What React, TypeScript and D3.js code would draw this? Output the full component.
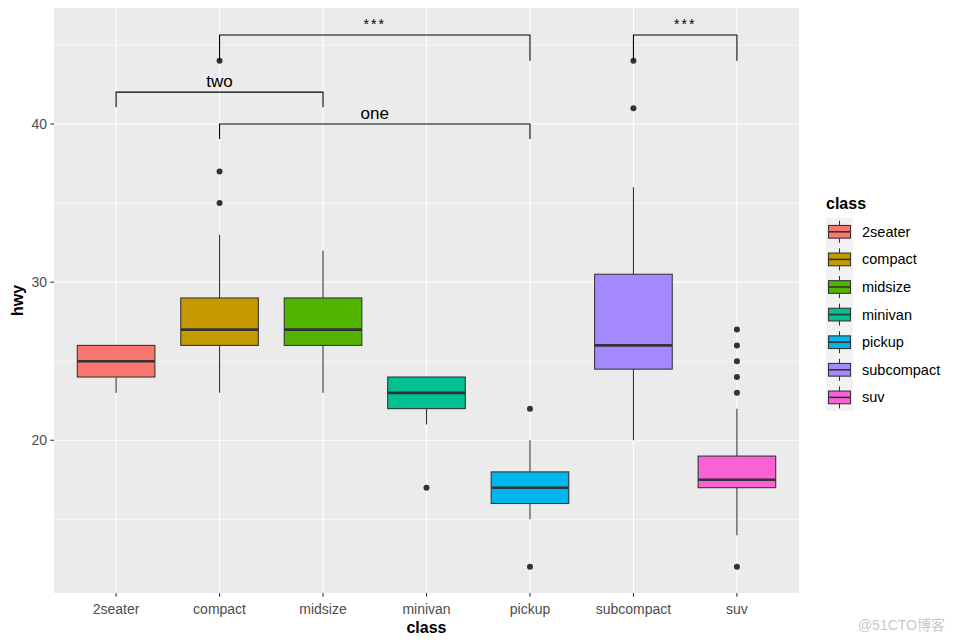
import React from "react";
import * as d3 from "d3";

const classes = ["2seater", "compact", "midsize", "minivan", "pickup", "subcompact", "suv"];
const colors = ["#F8766D", "#C49A00", "#53B400", "#00C094", "#00B6EB", "#A58AFF", "#FB61D7"];
const lowerWhisker = [23, 23, 23, 21, 15, 20, 14];
const q1 = [24, 26, 26, 22, 16, 24.5, 17];
const median = [25, 27, 27, 23, 17, 26, 17.5];
const q3 = [26, 29, 29, 24, 18, 30.5, 19];
const upperWhisker = [26, 33, 32, 24, 20, 36, 22];
const outliers: number[][] = [[], [44, 37, 35], [], [17], [22, 12], [44, 41], [27, 26, 25, 24, 23, 12]];

const yMajor = [20, 30, 40];
const yMinor = [15, 25, 35, 45];

const bracketFrom = ["compact", "subcompact", "2seater", "compact"];
const bracketTo = ["pickup", "suv", "midsize", "pickup"];
const bracketY = [45.63, 45.63, 42.02, 40.0];
const bracketTip = [44.0, 44.0, 41.07, 39.05];
const bracketLabel = ["***", "***", "two", "one"];
const bracketSize = [14, 14, 17, 17];

const W = 954, H = 642;
const panel = { left: 54, right: 799, top: 8, bottom: 593 };
const FONT = "'Liberation Sans', Arial, sans-serif";

export default function App() {
  const x = d3.scalePoint<string>().domain(classes).range([panel.left, panel.right]).padding(0.6);
  const y = d3.scaleLinear().domain([10.34, 47.34]).range([panel.bottom, panel.top]);
  const step = x.step();
  const bw = step * 0.75;

  const legendX = 826;
  const legendKeyTop = 218;
  const keyH = 27.6;
  const keyW = 27;

  return (
    <svg width={W} height={H} style={{ position: "absolute", left: 0, top: 0, background: "#fff" }} fontFamily={FONT}>
      <rect x={panel.left} y={panel.top} width={panel.right - panel.left} height={panel.bottom - panel.top} fill="#EBEBEB" />
      {yMinor.map((v) => (
        <line key={"mn" + v} x1={panel.left} x2={panel.right} y1={y(v)} y2={y(v)} stroke="#fff" strokeWidth={0.55} />
      ))}
      {yMajor.map((v) => (
        <line key={"mj" + v} x1={panel.left} x2={panel.right} y1={y(v)} y2={y(v)} stroke="#fff" strokeWidth={1.07} />
      ))}
      {classes.map((c) => (
        <line key={"vx" + c} x1={x(c)} x2={x(c)} y1={panel.top} y2={panel.bottom} stroke="#fff" strokeWidth={1.07} />
      ))}

      {classes.map((c, i) => {
        const cx = x(c)!;
        return (
          <g key={"box" + c}>
            <line x1={cx} x2={cx} y1={y(upperWhisker[i])} y2={y(q3[i])} stroke="#333" strokeWidth={1.07} />
            <line x1={cx} x2={cx} y1={y(q1[i])} y2={y(lowerWhisker[i])} stroke="#333" strokeWidth={1.07} />
            <rect x={cx - bw / 2} y={y(q3[i])} width={bw} height={y(q1[i]) - y(q3[i])} fill={colors[i]} stroke="#333" strokeWidth={1.07} />
            <line x1={cx - bw / 2} x2={cx + bw / 2} y1={y(median[i])} y2={y(median[i])} stroke="#333" strokeWidth={2.6} />
            {outliers[i].map((o, j) => (
              <circle key={j} cx={cx} cy={y(o)} r={3} fill="#333" />
            ))}
          </g>
        );
      })}

      {bracketFrom.map((f, i) => {
        const x1 = x(f)!;
        const x2 = x(bracketTo[i])!;
        const yy = y(bracketY[i]);
        const yt = y(bracketTip[i]);
        const stars = bracketLabel[i] === "***";
        return (
          <g key={"br" + i}>
            <path d={`M${x1},${yt}V${yy}H${x2}V${yt}`} fill="none" stroke="#000" strokeWidth={1.07} />
            <text x={(x1 + x2) / 2} y={yy - (stars ? 6.5 : 5.5)} textAnchor="middle" fontSize={bracketSize[i]} letterSpacing={stars ? 2 : 0} fill="#000">
              {bracketLabel[i]}
            </text>
          </g>
        );
      })}

      {/* y axis */}
      {yMajor.map((v) => (
        <g key={"yt" + v}>
          <line x1={panel.left - 3.7} x2={panel.left} y1={y(v)} y2={y(v)} stroke="#333" strokeWidth={1.07} />
          <text x={panel.left - 7} y={y(v) + 5} textAnchor="end" fontSize={14} fill="#4D4D4D">{v}</text>
        </g>
      ))}
      {/* x axis */}
      {classes.map((c) => (
        <g key={"xt" + c}>
          <line x1={x(c)} x2={x(c)} y1={panel.bottom} y2={panel.bottom + 3.7} stroke="#333" strokeWidth={1.07} />
          <text x={x(c)} y={panel.bottom + 20.5} textAnchor="middle" fontSize={14} fill="#4D4D4D">{c}</text>
        </g>
      ))}
      <text x={(panel.left + panel.right) / 2} y={633} textAnchor="middle" fontSize={16} fontWeight="bold" fill="#000">class</text>
      <text transform={`translate(23,${(panel.top + panel.bottom) / 2}) rotate(-90)`} textAnchor="middle" fontSize={16} fontWeight="bold" fill="#000">hwy</text>

      {/* legend */}
      <text x={legendX} y={209} fontSize={16} fontWeight="bold" fill="#000">class</text>
      <rect x={legendX} y={legendKeyTop} width={keyW} height={keyH * classes.length} fill="#F2F2F2" />
      {classes.map((c, i) => {
        const top = legendKeyTop + i * keyH;
        const cx = legendX + keyW / 2;
        const cy = top + keyH / 2;
        return (
          <g key={"lg" + c}>
            <line x1={cx} x2={cx} y1={top + keyH * 0.1} y2={top + keyH * 0.9} stroke="#333" strokeWidth={1.07} />
            <rect x={legendX + 2.5} y={top + keyH * 0.27} width={keyW - 5} height={keyH * 0.46} fill={colors[i]} stroke="#333" strokeWidth={1.07} />
            <line x1={legendX + 2.5} x2={legendX + keyW - 2.5} y1={cy} y2={cy} stroke="#333" strokeWidth={1.6} />
            <text x={862} y={cy + 5} fontSize={14.5} fill="#000">{c}</text>
          </g>
        );
      })}

      <text x={945} y={630} textAnchor="end" fontSize={14} fill="#C8C8C8" fontFamily="'Liberation Sans', 'Noto Sans CJK SC', sans-serif">@51CTO博客</text>
    </svg>
  );
}
